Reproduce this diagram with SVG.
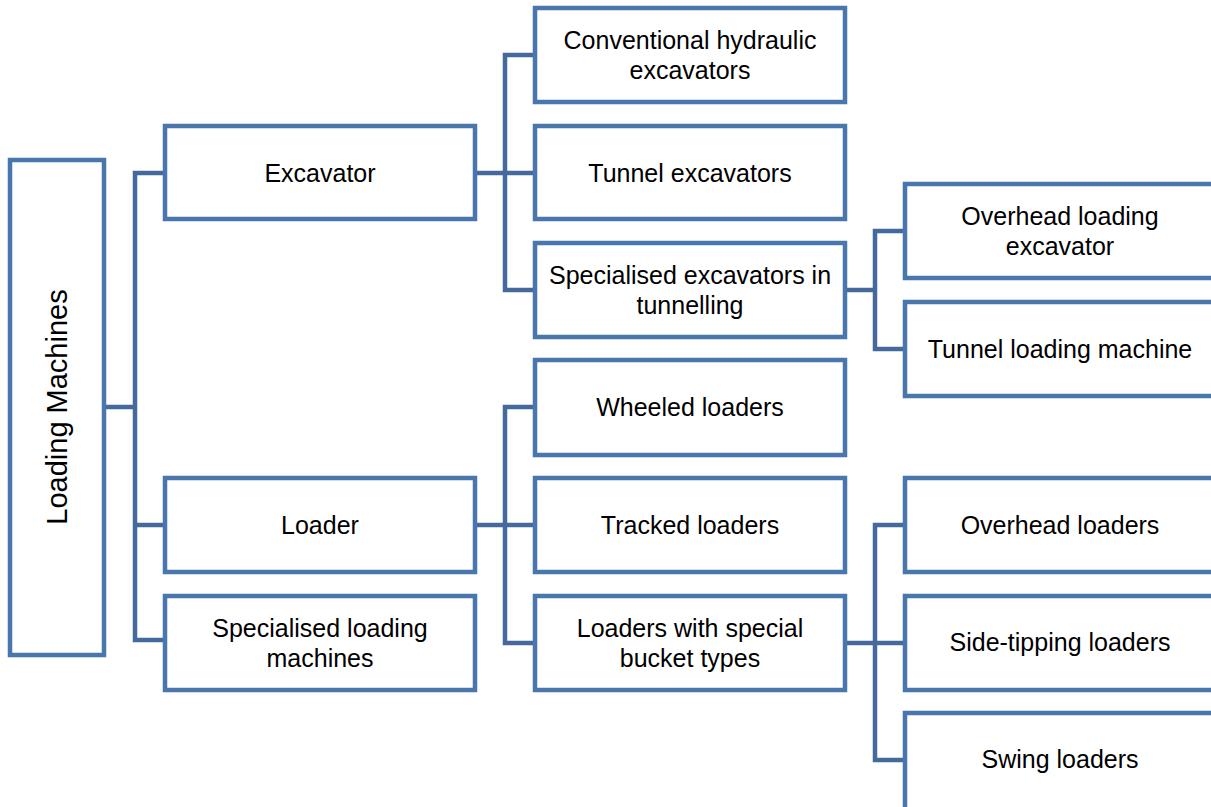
<svg xmlns="http://www.w3.org/2000/svg" width="1211" height="807" viewBox="0 0 1211 807">
  <style>
    .box { fill: #ffffff; stroke: #4a76ae; stroke-width: 4.5; }
    .lbl { font-family: "Liberation Sans", Arial, sans-serif; font-size: 25px; fill: #000000; text-anchor: middle; }
    .root { font-size: 29px; }
    .wire { fill: none; stroke: #45699c; stroke-width: 4.5; stroke-linejoin: miter; }
  </style>
  <rect width="1211" height="807" fill="#ffffff"/>

  <!-- tree connectors -->
  <g id="connectors">
    <path class="wire" d="M104 407 H135 M165 173 H135 V640 H165 M135 525 H165"/>
    <path class="wire" d="M475 173 H505 M535 55 H505 V290 H535 M505 173 H535"/>
    <path class="wire" d="M475 525 H505 M535 407 H505 V643 H535 M505 525 H535"/>
    <path class="wire" d="M845 290 H875 M905 231 H875 V349 H905"/>
    <path class="wire" d="M845 643 H875 M905 525 H875 V760 H905 M875 643 H905"/>
  </g>

  <!-- root -->
  <g id="loading-machines">
    <rect class="box" x="10" y="160" width="94" height="495"/>
    <text class="lbl root" transform="translate(67 407) rotate(-90)">Loading Machines</text>
  </g>

  <!-- first level -->
  <g id="excavator">
    <rect class="box" x="165" y="126" width="310" height="93"/>
    <text class="lbl" x="320" y="182">Excavator</text>
  </g>
  <g id="loader">
    <rect class="box" x="165" y="478" width="310" height="94"/>
    <text class="lbl" x="320" y="534">Loader</text>
  </g>
  <g id="specialised-loading-machines">
    <rect class="box" x="165" y="596" width="310" height="94"/>
    <text class="lbl" x="320" y="637">Specialised loading</text>
    <text class="lbl" x="320" y="667">machines</text>
  </g>

  <!-- second level -->
  <g id="conventional-hydraulic-excavators">
    <rect class="box" x="535" y="8" width="310" height="94"/>
    <text class="lbl" x="690" y="49">Conventional hydraulic</text>
    <text class="lbl" x="690" y="79">excavators</text>
  </g>
  <g id="tunnel-excavators">
    <rect class="box" x="535" y="126" width="310" height="93"/>
    <text class="lbl" x="690" y="182">Tunnel excavators</text>
  </g>
  <g id="specialised-excavators">
    <rect class="box" x="535" y="243" width="310" height="94"/>
    <text class="lbl" x="690" y="284">Specialised excavators in</text>
    <text class="lbl" x="690" y="314">tunnelling</text>
  </g>
  <g id="wheeled-loaders">
    <rect class="box" x="535" y="360" width="310" height="95"/>
    <text class="lbl" x="690" y="416">Wheeled loaders</text>
  </g>
  <g id="tracked-loaders">
    <rect class="box" x="535" y="478" width="310" height="94"/>
    <text class="lbl" x="690" y="534">Tracked loaders</text>
  </g>
  <g id="loaders-special-buckets">
    <rect class="box" x="535" y="596" width="310" height="94"/>
    <text class="lbl" x="690" y="637">Loaders with special</text>
    <text class="lbl" x="690" y="667">bucket types</text>
  </g>

  <!-- third level -->
  <g id="overhead-loading-excavator">
    <rect class="box" x="905" y="184" width="310" height="94"/>
    <text class="lbl" x="1060" y="225">Overhead loading</text>
    <text class="lbl" x="1060" y="255">excavator</text>
  </g>
  <g id="tunnel-loading-machine">
    <rect class="box" x="905" y="302" width="310" height="94"/>
    <text class="lbl" x="1060" y="358">Tunnel loading machine</text>
  </g>
  <g id="overhead-loaders">
    <rect class="box" x="905" y="478" width="310" height="94"/>
    <text class="lbl" x="1060" y="534">Overhead loaders</text>
  </g>
  <g id="side-tipping-loaders">
    <rect class="box" x="905" y="596" width="310" height="94"/>
    <text class="lbl" x="1060" y="651">Side-tipping loaders</text>
  </g>
  <g id="swing-loaders">
    <rect class="box" x="905" y="713" width="310" height="100"/>
    <text class="lbl" x="1060" y="768">Swing loaders</text>
  </g>
</svg>
